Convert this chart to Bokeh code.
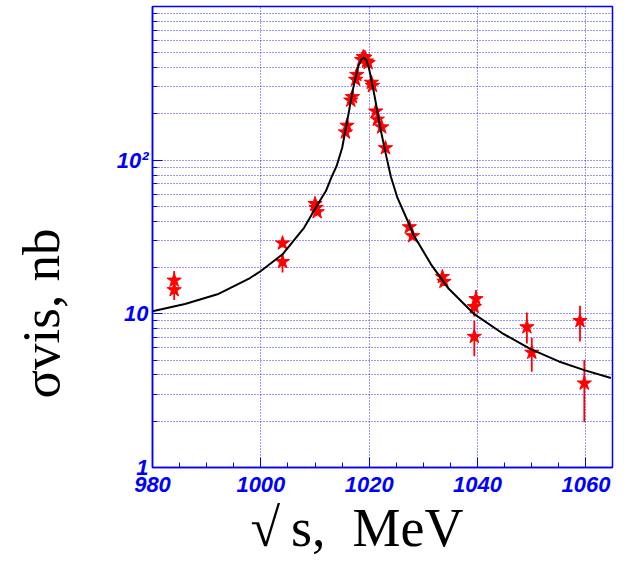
from bokeh.plotting import figure
from bokeh.models import Range1d, FixedTicker, Title, ColumnDataSource
from bokeh.embed import file_html
from bokeh.resources import INLINE

# ---- data ----
sqrt_s = [984.0, 984.0, 1004.0, 1004.0, 1010.0, 1010.2, 1010.4, 1015.6, 1015.9,
          1016.6, 1016.9, 1017.5, 1017.7, 1018.6, 1018.9, 1019.2, 1019.5, 1019.8,
          1020.4, 1020.6, 1021.2, 1021.5, 1022.3, 1023.0, 1027.4, 1028.0, 1033.5,
          1033.8, 1039.7, 1039.4, 1039.4, 1049.1, 1050.0, 1058.9, 1059.7]
sigma_vis = [16.5, 14.3, 28.8, 21.8, 52, 49, 46, 152, 168,
             245, 258, 334, 360, 450, 470, 465, 440, 430,
             320, 305, 208, 184, 164, 120, 36.7, 32.1, 17.4,
             16.2, 12.5, 11.1, 7.1, 8.2, 5.6, 9.0, 3.53]
sigma_lo = [14.9, 12.3, 27.0, 18.6, 50, 47, 44, 147, 163,
            239, 252, 327, 353, 442, 462, 457, 432, 422,
            313, 298, 203, 179, 159, 116, 35.0, 30.5, 16.4,
            15.2, 11.0, 9.6, 5.3, 6.4, 4.2, 6.6, 1.97]
sigma_hi = [19.0, 15.8, 30.6, 24.5, 54, 51, 48, 157, 173,
            251, 264, 341, 367, 458, 478, 473, 448, 438,
            327, 312, 213, 189, 169, 124, 38.5, 33.8, 18.4,
            17.2, 14.3, 12.8, 9.0, 10.2, 7.0, 11.3, 5.0]

fit_x = [980, 986, 992, 998, 1000, 1004, 1008, 1010.5, 1012, 1013, 1014, 1015,
         1016, 1017, 1018, 1018.5, 1019.0, 1019.5, 1020, 1021, 1022, 1023,
         1024, 1025.2, 1027.1, 1028.3, 1031.4, 1034.5, 1039.4, 1044.5, 1049.8,
         1055, 1059.7, 1064.6]
fit_y = [10.4, 11.6, 13.4, 17.1, 19.0, 24.4, 36.4, 51.6, 63, 77, 92, 120,
         185, 290, 410, 448, 465, 445, 390, 260, 165, 112,
         78, 57, 40.2, 32.1, 21.0, 14.8, 9.95, 7.5, 5.9,
         4.9, 4.3, 3.82]

x_ticks = [980, 1000, 1020, 1040, 1060]
x_minor = [985, 990, 995, 1005, 1010, 1015, 1025, 1030, 1035, 1045, 1050, 1055, 1065]
y_ticks = [1, 10, 100, 1000]
y_minor = [2, 3, 4, 5, 6, 7, 8, 9, 20, 30, 40, 50, 60, 70, 80, 90,
           200, 300, 400, 500, 600, 700, 800, 900]
y_tick_labels = {1: "1", 10: "10", 100: "10\u00b2", 1000: ""}

x_title = "\u221a\u2009s,\u2002MeV"
y_title = "\u03c3vis, nb"

BLUE = "#0000ff"

p = figure(width=629, height=565, output_backend="svg", toolbar_location=None,
           x_range=Range1d(980, 1064.9), y_range=Range1d(1, 1000),
           y_axis_type="log",
           min_border_left=152, min_border_right=17, min_border_top=6,
           min_border_bottom=98)
p.background_fill_color = "white"
p.border_fill_color = "white"
p.outline_line_color = BLUE
p.outline_line_width = 1.5

# axes
p.xaxis.ticker = FixedTicker(ticks=x_ticks, minor_ticks=x_minor)
p.yaxis.ticker = FixedTicker(ticks=y_ticks, minor_ticks=y_minor)
p.yaxis.major_label_overrides = y_tick_labels
for ax in (p.xaxis[0], p.yaxis[0]):
    ax.axis_line_color = BLUE
    ax.axis_line_width = 1.5
    ax.major_tick_line_color = BLUE
    ax.minor_tick_line_color = BLUE
    ax.major_tick_in = 10
    ax.major_tick_out = 0
    ax.minor_tick_in = 5
    ax.minor_tick_out = 0
    ax.major_label_text_color = BLUE
    ax.major_label_text_font = "Liberation Sans"
    ax.major_label_text_font_style = "bold italic"
    ax.major_label_text_font_size = "22px"
p.xaxis.major_label_standoff = 9
p.yaxis.major_label_standoff = 4
# blank spacer label: pushes the y title away from the tick labels
p.yaxis.axis_label = " "
p.yaxis.axis_label_text_font_size = "10px"
p.yaxis.axis_label_standoff = 30

# grids
for g in (p.xgrid[0], p.ygrid[0]):
    g.grid_line_color = BLUE
    g.grid_line_dash = "1 2"
    g.grid_line_alpha = 0.8
p.ygrid.minor_grid_line_color = BLUE
p.ygrid.minor_grid_line_dash = "1 2"
p.ygrid.minor_grid_line_alpha = 0.8

src = ColumnDataSource(dict(x=sqrt_s, y=sigma_vis, lo=sigma_lo, hi=sigma_hi))
p.segment(x0="x", y0="lo", x1="x", y1="hi", source=src, line_color="red", line_width=1.8)
p.scatter(x="x", y="y", source=src, marker="star", size=15,
          fill_color="red", line_color="red")
p.line(fit_x, fit_y, line_color="black", line_width=2)

# axis titles
p.add_layout(Title(text=x_title, align="left", offset=98, standoff=3,
                   text_font="Liberation Serif", text_font_size="54px",
                   text_font_style="normal", text_color="black"), "below")
p.add_layout(Title(text=y_title, align="left", offset=69, standoff=0,
                   text_font="Liberation Serif", text_font_size="53px",
                   text_font_style="normal", text_color="black"), "left")

open("out.html", "w").write(file_html(p, INLINE))
